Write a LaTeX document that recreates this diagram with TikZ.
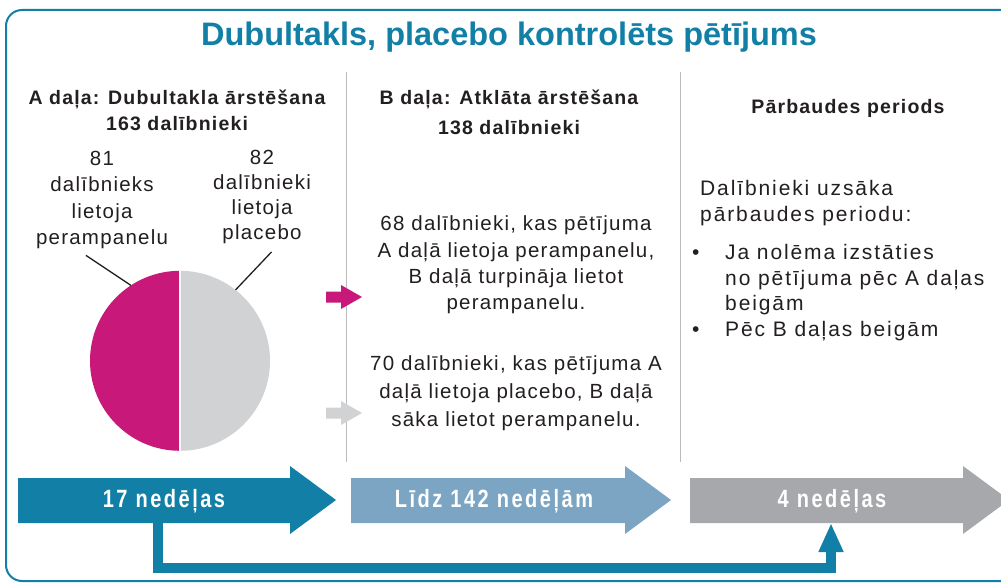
\documentclass[tikz,border=0pt]{standalone}
\usepackage{fontspec}
\setmainfont{Liberation Sans}
\newfontfamily\trackfont[LetterSpace=6]{Liberation Sans}
\newfontfamily\widefont[LetterSpace=9]{Liberation Sans}
\newfontfamily\weekfont[FakeStretch=0.8, LetterSpace=10]{Liberation Sans}
\usetikzlibrary{arrows.meta}
\usetikzlibrary{positioning}

\definecolor{studyblue}{HTML}{1280A6}
\definecolor{openblue}{HTML}{7BA5C2}
\definecolor{followgray}{HTML}{A7A8AB}
\definecolor{perampink}{HTML}{C8197B}
\definecolor{placebogray}{HTML}{D1D2D4}
\definecolor{rulegray}{HTML}{BBBBBB}
\definecolor{inkblack}{HTML}{231F20}

\tikzset{
  phasehead/.style={font=\trackfont\bfseries\fontsize{19.5}{26}\selectfont, text=inkblack, align=center, inner sep=0pt},
  bodytext/.style={font=\trackfont\fontsize{20.5}{26.3}\selectfont, text=inkblack, align=center, inner sep=0pt},
  weeklabel/.style={font=\weekfont\bfseries\fontsize{25}{28}\selectfont, text=white, inner sep=0pt},
  divider/.style={rulegray, line width=1pt},
  leader/.style={inkblack, line width=1.3pt},
  conn/.style={studyblue, line width=10pt, -{Triangle[length=29pt,width=23pt]}},
  smallarrow/.pic={\fill (0,-5.5) -- (15,-5.5) -- (15,-12) -- (36,0) -- (15,12) -- (15,5.5) -- (0,5.5) -- cycle;}
}
% week arrow: body from x=#1 to x=#2, head 46 long
\newcommand{\weekarrow}[3]{\fill[#3] (#1,478) -- (#2,478) -- (#2,466) -- ({#2+46},500) -- (#2,534) -- (#2,523) -- (#1,523) -- cycle;}

\begin{document}
\begin{tikzpicture}[x=1pt,y=-1pt]
    \useasboundingbox (0,0) rectangle (1001,583);
    \fill[white] (0,0) rectangle (1001,583);
    \draw[studyblue, line width=2pt, rounded corners=16pt] (1040,10) -- (6,10) -- (6,581) -- (1040,581);

    \node[font=\bfseries\fontsize{32.5}{36}\selectfont, text=studyblue] (title) at (509,37) {Dubultakls, placebo kontrolēts pētījums};

    \draw[divider] (346,72) -- (346,462);
    \draw[divider] (680,72) -- (680,462);

    % column headings
    \node[phasehead] (headA) at (177,110) {A daļa: Dubultakla ārstēšana\\163 dalībnieki};
    \node[phasehead] (headB) at (509,112) {B daļa: Atklāta ārstēšana\\[4pt]138 dalībnieki};
    \node[phasehead] (headC) at (848,108) {Pārbaudes periods};

    % part A
    \node[bodytext] (armP) at (102,200) {81\\dalībnieks\\lietoja\\perampanelu};
    \node[bodytext, font=\trackfont\fontsize{20.5}{25.2}\selectfont] (armQ) at (262,197) {82\\dalībnieki\\lietoja\\placebo};
    \node[circle, minimum size=180pt, inner sep=0pt] (pie) at (180,361) {};
    \fill[perampink] (pie.north) arc[start angle=270, end angle=90, radius=90];
    \fill[placebogray] (pie.north) arc[start angle=-90, end angle=90, radius=90];
    \draw[white, line width=2pt] (pie.north) -- (pie.south);
    \draw[leader] (pie.123) -- ++(-45,-30);
    \draw[leader] (pie.52) -- ++(36,-38);

    % part B
    \pic[perampink] at (326,297) {smallarrow};
    \pic[placebogray] at (326,413) {smallarrow};
    \node[bodytext] (contB) at (516,265) {68 dalībnieki, kas pētījuma\\A daļā lietoja perampanelu,\\B daļā turpināja lietot\\perampanelu.};
    \node[bodytext, font=\trackfont\fontsize{20.5}{28}\selectfont] (startB) at (516,393) {70 dalībnieki, kas pētījuma A\\daļā lietoja placebo, B daļā\\sāka lietot perampanelu.};

    % follow-up
    \node[bodytext, font=\widefont\fontsize{21}{25.6}\selectfont, align=left, anchor=north west] (followC) at (700,180) {Dalībnieki uzsāka\\pārbaudes periodu:\\[13pt]\hspace*{-8pt}\makebox[33pt][l]{•}Ja nolēma izstāties\\\hspace*{25pt}no pētījuma pēc A daļas\\\hspace*{25pt}beigām\\\hspace*{-8pt}\makebox[33pt][l]{•}Pēc B daļas beigām};

    % timeline
    \weekarrow{18}{290}{studyblue}
    \weekarrow{351}{625}{openblue}
    \weekarrow{690}{963}{followgray}
    \node[weeklabel] (w1) at (164,501) {17 nedēļas};
    \node[weeklabel] (w2) at (494,501) {Līdz 142 nedēļām};
    \node[weeklabel] (w3) at (832,501) {4 nedēļas};
    \coordinate (outA) at (158,523);
    \coordinate (inC) at (831,523);
    \draw[conn] (outA) -- (158,568) -| (inC);
\end{tikzpicture}
\end{document}
